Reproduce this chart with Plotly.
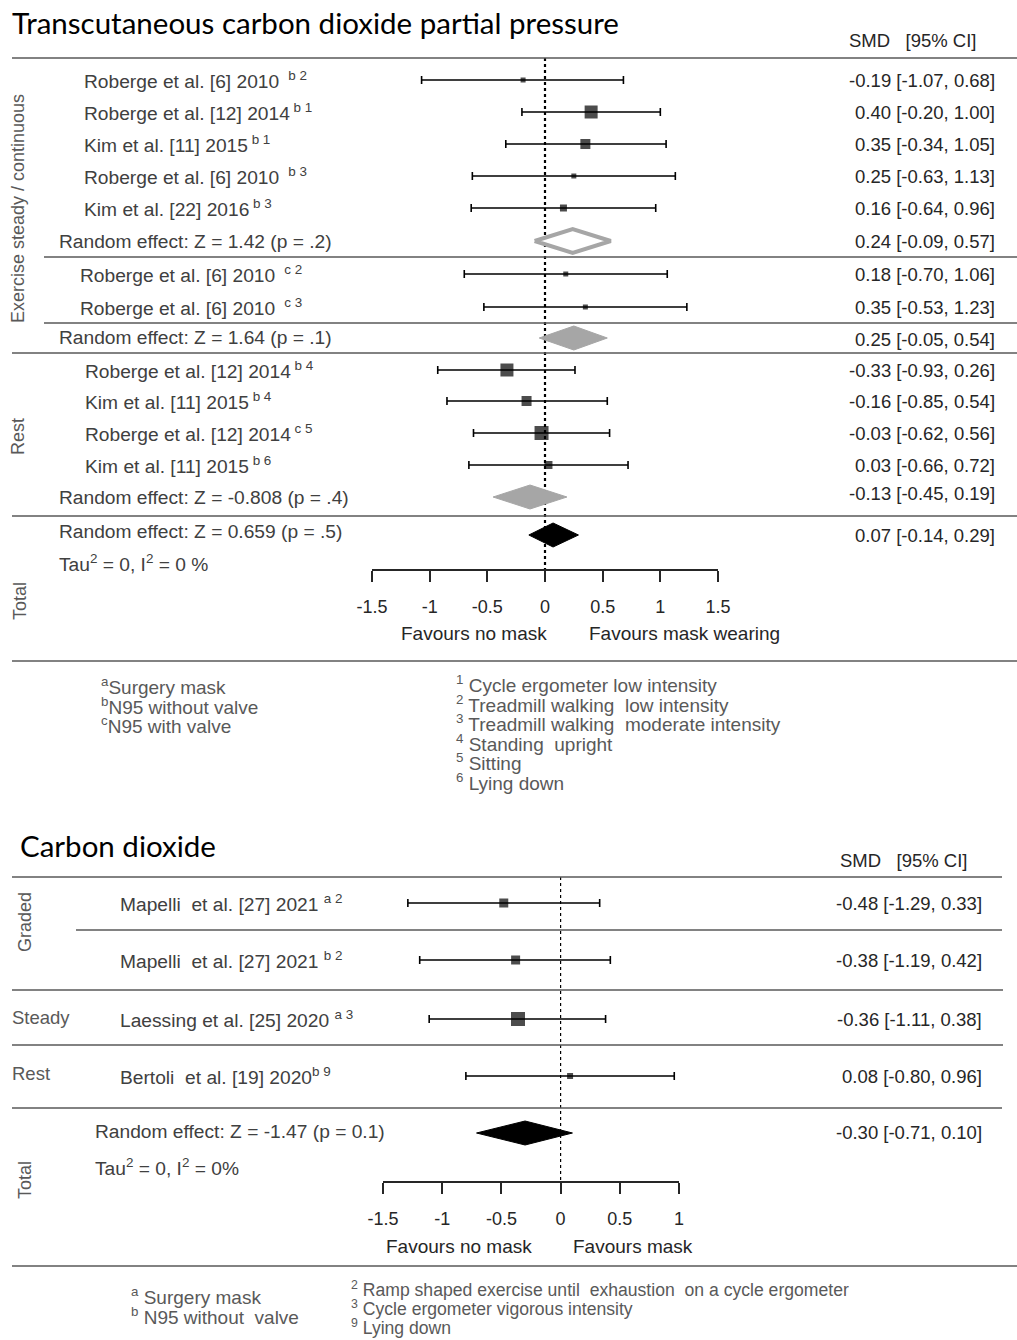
import plotly.graph_objects as go

W, H = 1017, 1340
ARIAL = "Liberation Sans, Arial, sans-serif"
TITLEF = "Lato, Open Sans, sans-serif"

# ---------------- Top panel data: transcutaneous CO2 ----------------
t_labels = ["Roberge et al. [6] 2010 ", "Roberge et al. [12] 2014", "Kim et al. [11] 2015",
            "Roberge et al. [6] 2010 ", "Kim et al. [22] 2016",
            "Roberge et al. [6] 2010 ", "Roberge et al. [6] 2010 ",
            "Roberge et al. [12] 2014", "Kim et al. [11] 2015", "Roberge et al. [12] 2014",
            "Kim et al. [11] 2015"]
t_sup = ["b 2", "b 1", "b 1", "b 3", "b 3", "c 2", "c 3", "b 4", "b 4", "c 5", "b 6"]
t_est = [-0.19, 0.40, 0.35, 0.25, 0.16, 0.18, 0.35, -0.33, -0.16, -0.03, 0.03]
t_lo = [-1.07, -0.20, -0.34, -0.63, -0.64, -0.70, -0.53, -0.93, -0.85, -0.62, -0.66]
t_hi = [0.68, 1.00, 1.05, 1.13, 0.96, 1.06, 1.23, 0.26, 0.54, 0.56, 0.72]
t_weight = [5, 13, 10, 5, 7, 5, 5, 13, 10, 14, 8]

t_pool_labels = ["Random effect: Z = 1.42 (p = .2)", "Random effect: Z = 1.64 (p = .1)",
                 "Random effect: Z = -0.808 (p = .4)", "Random effect: Z = 0.659 (p = .5)"]
t_pool_est = [0.24, 0.25, -0.13, 0.07]
t_pool_lo = [-0.09, -0.05, -0.45, -0.14]
t_pool_hi = [0.57, 0.54, 0.19, 0.29]

t_ticks = [-1.5, -1, -0.5, 0, 0.5, 1, 1.5]
t_ticktext = ["-1.5", "-1", "-0.5", "0", "0.5", "1", "1.5"]

t_foot_left = [("a", "Surgery mask"), ("b", "N95 without valve"), ("c", "N95 with valve")]
t_foot_right = [("1", "Cycle ergometer low intensity"), ("2", "Treadmill walking  low intensity"),
                ("3", "Treadmill walking  moderate intensity"), ("4", "Standing  upright"),
                ("5", "Sitting"), ("6", "Lying down")]

# ---------------- Bottom panel data: carbon dioxide ----------------
b_labels = ["Mapelli  et al. [27] 2021 ", "Mapelli  et al. [27] 2021 ",
            "Laessing et al. [25] 2020 ", "Bertoli  et al. [19] 2020"]
b_sup = ["a 2", "b 2", "a 3", "b 9"]
b_est = [-0.48, -0.38, -0.36, 0.08]
b_lo = [-1.29, -1.19, -1.11, -0.80]
b_hi = [0.33, 0.42, 0.38, 0.96]
b_weight = [9, 9, 14, 6]

b_pool_labels = ["Random effect: Z = -1.47 (p = 0.1)"]
b_pool_est = [-0.30]
b_pool_lo = [-0.71]
b_pool_hi = [0.10]

b_ticks = [-1.5, -1, -0.5, 0, 0.5, 1]
b_ticktext = ["-1.5", "-1", "-0.5", "0", "0.5", "1"]

b_foot_left = [("a", "Surgery mask"), ("b", "N95 without  valve")]
b_foot_right = [("2", "Ramp shaped exercise until  exhaustion  on a cycle ergometer"),
                ("3", "Cycle ergometer vigorous intensity"), ("9", "Lying down")]

# ---------------- layout (pixel positions) ----------------
t_row_y = [80, 112, 144, 176, 208, 274, 307, 370, 401, 433, 465]
t_row_x = [82, 82, 82, 82, 82, 78, 78, 83, 83, 83, 83]
t_pool_y = [241, 338, 497, 535]
t_pool_label_y = [241, 337, 497, 531]
t_pool_val_y = [241, 339, 493, 535]
t_pool_style = [("white", "#A6A6A6", 4), ("#A6A6A6", "#A6A6A6", 1), ("#A6A6A6", "#A6A6A6", 1), ("black", "black", 1)]

b_row_y = [903, 960, 1019, 1076]
b_pool_y = [1133]

fig = go.Figure()

def forest(xaxis, est, lo, hi, ys, sizes):
    fig.add_trace(go.Scatter(
        x=est, y=ys, xaxis=xaxis, yaxis="y", mode="markers",
        marker=dict(symbol="square", size=sizes, color="black", line=dict(width=0)),
        error_x=dict(type="data", symmetric=False,
                     array=[h - e for h, e in zip(hi, est)],
                     arrayminus=[e - l for e, l in zip(est, lo)],
                     color="black", thickness=1.6, width=4),
        showlegend=False, hoverinfo="skip"))

def diamond(xaxis, e, l, h, yc, half, fill, line, lw):
    fig.add_trace(go.Scatter(
        x=[l, e, h, e, l], y=[yc, yc - half, yc, yc + half, yc], xaxis=xaxis, yaxis="y",
        mode="lines", fill="toself", fillcolor=fill, line=dict(color=line, width=lw),
        showlegend=False, hoverinfo="skip"))

# dotted reference lines
fig.add_trace(go.Scatter(x=[0, 0], y=[58, 570], xaxis="x", yaxis="y", mode="lines",
                         line=dict(color="black", width=2.2, dash="dot"), showlegend=False, hoverinfo="skip"))
fig.add_trace(go.Scatter(x=[0, 0], y=[877, 1182], xaxis="x2", yaxis="y", mode="lines",
                         line=dict(color="black", width=1.2, dash="dot"), showlegend=False, hoverinfo="skip"))

for i in range(len(t_pool_est)):
    f, c, lw = t_pool_style[i]
    diamond("x", t_pool_est[i], t_pool_lo[i], t_pool_hi[i], t_pool_y[i], 12, f, c, lw)
forest("x", t_est, t_lo, t_hi, t_row_y, t_weight)

diamond("x2", b_pool_est[0], b_pool_lo[0], b_pool_hi[0], b_pool_y[0], 12, "black", "black", 1)
forest("x2", b_est, b_lo, b_hi, b_row_y, b_weight)

ann = []
def txt(x, y, s, size=18.5, color="#404040", xanchor="left", angle=0, family=ARIAL):
    ann.append(dict(x=x / W, y=y, xref="paper", yref="y", text=s, showarrow=False,
                    xanchor=xanchor, yanchor="middle", textangle=angle,
                    font=dict(family=family, size=size, color=color)))

def fmt(e, l, h):
    return f"{e:.2f} [{l:.2f}, {h:.2f}]"

LAB = 19.2
# ---- top panel text ----
txt(10, 22, "Transcutaneous carbon dioxide partial pressure", size=29.5, color="black", family=TITLEF)
txt(847, 40, "SMD   [95% CI]", size=18.5, color="#262626")
for lab, sup, y, x in zip(t_labels, t_sup, t_row_y, t_row_x):
    txt(x, y, f"{lab}<sup> {sup}</sup>", size=LAB)
for e, l, h, y in zip(t_est, t_lo, t_hi, t_row_y):
    txt(997, y, fmt(e, l, h), xanchor="right", color="#262626")
for lab, y in zip(t_pool_labels, t_pool_label_y):
    txt(57, y, lab, size=LAB)
for e, l, h, y in zip(t_pool_est, t_pool_lo, t_pool_hi, t_pool_val_y):
    txt(997, y, fmt(e, l, h), xanchor="right", color="#262626")
txt(57, 563, "Tau<sup>2</sup> = 0, I<sup>2</sup> = 0 %", size=LAB)
txt(18, 209, "Exercise steady / continuous", color="#595959", angle=-90, size=18, xanchor="center")
txt(18, 437, "Rest", color="#595959", angle=-90, size=18, xanchor="center")
txt(20, 601, "Total", color="#595959", angle=-90, size=18, xanchor="center")
txt(549, 633, "Favours no mask", xanchor="right", color="#262626", size=19)
txt(587, 633, "Favours mask wearing", color="#262626", size=19)
for i, (s, t) in enumerate(t_foot_left):
    txt(99, 686 + 19.5 * i, f"<sup>{s}</sup>{t}", color="#595959", size=19)
for i, (s, t) in enumerate(t_foot_right):
    txt(454, 684 + 19.5 * i, f"<sup>{s}</sup> {t}", color="#595959", size=19)

# ---- bottom panel text ----
txt(18, 845, "Carbon dioxide", size=29.5, color="black", family=TITLEF)
txt(838, 860, "SMD   [95% CI]", size=18.5, color="#262626")
for lab, sup, y in zip(b_labels, b_sup, b_row_y):
    txt(118, y, f"{lab}<sup>{sup}</sup>", size=LAB)
for e, l, h, y in zip(b_est, b_lo, b_hi, b_row_y):
    txt(984, y, fmt(e, l, h), xanchor="right", color="#262626")
txt(93, 1131, b_pool_labels[0], size=LAB)
txt(984, 1132, fmt(b_pool_est[0], b_pool_lo[0], b_pool_hi[0]), xanchor="right", color="#262626")
txt(93, 1167, "Tau<sup>2</sup> = 0, I<sup>2</sup> = 0%", size=LAB)
txt(25, 922, "Graded", color="#595959", angle=-90, size=18, xanchor="center")
txt(10, 1017, "Steady", color="#595959", size=18.5)
txt(10, 1073, "Rest", color="#595959", size=18.5)
txt(25, 1180, "Total", color="#595959", angle=-90, size=18, xanchor="center")
txt(534, 1246, "Favours no mask", xanchor="right", color="#262626", size=19)
txt(571, 1246, "Favours mask", color="#262626", size=19)
for i, (s, t) in enumerate(b_foot_left):
    txt(129, 1296 + 19.5 * i, f"<sup>{s}</sup> {t}", color="#595959", size=19)
for i, (s, t) in enumerate(b_foot_right):
    txt(349, 1289 + 19.2 * i, f"<sup>{s}</sup> {t}", color="#595959", size=17.6)

# separator lines
seps = [(58, 12, 1017), (257, 44, 1017), (323, 44, 1017), (353, 12, 1017), (516, 12, 1017), (661, 12, 1017),
        (877, 12, 1002), (930, 76, 1002), (990, 12, 1003), (1045, 12, 1003), (1108, 12, 1002), (1266, 12, 1017)]
shapes = [dict(type="line", xref="paper", yref="y", x0=a / W, x1=b / W, y0=y, y1=y,
               line=dict(color="#595959", width=1.6)) for y, a, b in seps]

axis_common = dict(showgrid=False, zeroline=False, showline=True, linecolor="#262626", linewidth=2,
                   ticks="outside", ticklen=11, tickwidth=2, tickcolor="#262626",
                   tickfont=dict(family=ARIAL, size=18, color="#262626"),
                   anchor="free", fixedrange=True, ticklabelstandoff=9, automargin=False)

fig.update_layout(
    template="none",
    width=W, height=H, autosize=False,
    margin=dict(l=0, r=0, t=0, b=0, pad=0, autoexpand=False),
    paper_bgcolor="white", plot_bgcolor="rgba(0,0,0,0)",
    showlegend=False,
    xaxis=dict(domain=[372 / W, 718 / W], range=[-1.5, 1.5], tickvals=t_ticks, ticktext=t_ticktext,
               position=1 - 570 / H, **axis_common),
    xaxis2=dict(domain=[383 / W, 679 / W], range=[-1.5, 1.0], tickvals=b_ticks, ticktext=b_ticktext,
                position=1 - 1182 / H, **axis_common),
    yaxis=dict(domain=[0, 1], range=[H, 0], visible=False, anchor="x", fixedrange=True, automargin=False),
    annotations=ann, shapes=shapes,
)

fig.write_html("out.html", config={"displayModeBar": False},
               post_script="document.body.style.margin='0';document.body.style.overflow='hidden';")
